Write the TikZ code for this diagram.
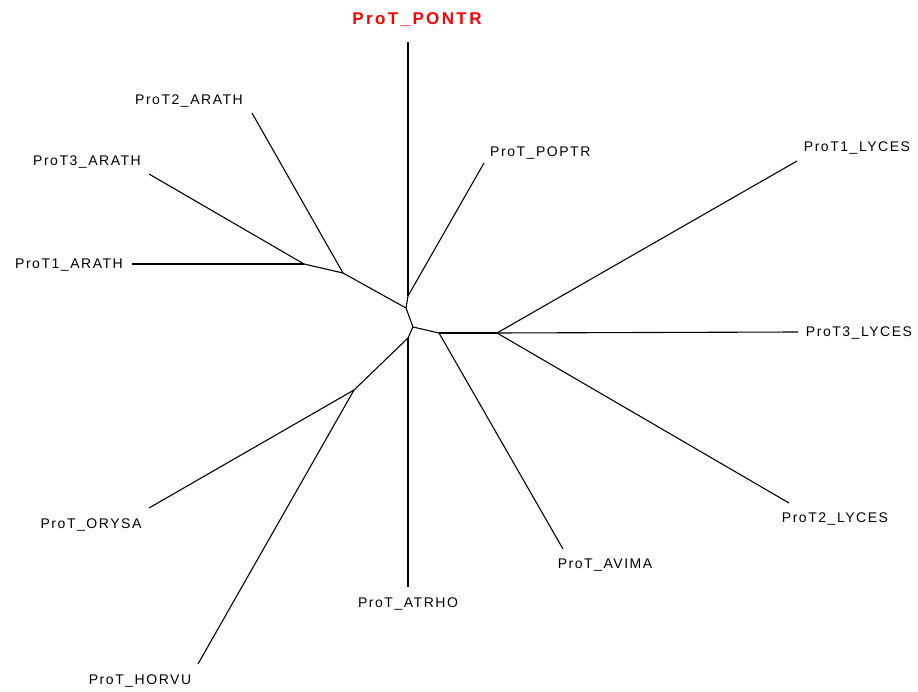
\documentclass[tikz,border=0pt]{standalone}
\usepackage{fontspec}
\setmainfont{Liberation Sans}[LetterSpace=11]
\newfontfamily\boldlab{Liberation Sans}[LetterSpace=14]
\begin{document}
\begin{tikzpicture}[x=1pt,y=-1pt,
  branch/.style={line width=1.1pt, black},
  leaf/.style={font=\fontsize{14}{16}\selectfont, inner sep=0pt, text=black},
  rootlab/.style={font=\boldlab\fontsize{17}{19}\selectfont\bfseries, inner sep=0pt, text=red}]
\useasboundingbox (0,0) rectangle (918,692);
% internal nodes
\coordinate (n1) at (408,296);
\coordinate (n2) at (406,308);
\coordinate (c) at (413,327);
\coordinate (n4) at (408,338);
\coordinate (n5) at (354,390);
\coordinate (n6) at (439,333);
\coordinate (n7) at (497,333);
\coordinate (n8) at (343,273);
\coordinate (n9) at (304,264);
% leaf ends
\coordinate (ePONTR) at (408,42);
\coordinate (ePOPTR) at (484,163);
\coordinate (eL1) at (797,161);
\coordinate (eL3) at (798,332);
\coordinate (eL2) at (789,503);
\coordinate (eAVIMA) at (563,549);
\coordinate (eATRHO) at (408,587);
\coordinate (eHORVU) at (198,664);
\coordinate (eORYSA) at (149,508);
\coordinate (eA1) at (132,264);
\coordinate (eA3) at (149,174);
\coordinate (eA2) at (252,113);
% labels
\node[rootlab] (PONTR) at (417,20) {ProT\_PONTR};
\node[leaf, anchor=west] (POPTR) at (490,153) {ProT\_POPTR};
\node[leaf] (L1) at (857,148) {ProT1\_LYCES};
\node[leaf] (L3) at (859,333) {ProT3\_LYCES};
\node[leaf] (L2) at (835,519) {ProT2\_LYCES};
\node[leaf] (AVIMA) at (605,565) {ProT\_AVIMA};
\node[leaf] (ATRHO) at (408,604) {ProT\_ATRHO};
\node[leaf] (HORVU) at (140,681) {ProT\_HORVU};
\node[leaf] (ORYSA) at (91,525) {ProT\_ORYSA};
\node[leaf] (A1) at (69,265) {ProT1\_ARATH};
\node[leaf] (A3) at (87,162) {ProT3\_ARATH};
\node[leaf] (A2) at (189,101) {ProT2\_ARATH};
% branches
\draw[branch] (ePONTR) -- (n1);
\draw[branch] (ePOPTR) -- (n1);
\draw[branch] (n1) -- (n2);
\draw[branch] (n2) -- (c);
\draw[branch] (n2) -- (n8);
\draw[branch] (n8) -- (eA2);
\draw[branch] (n8) -- (n9);
\draw[branch] (n9) -- (eA1);
\draw[branch] (n9) -- (eA3);
\draw[branch] (c) -- (n6);
\draw[branch] (n6) -- (n7);
\draw[branch] (n6) -- (eAVIMA);
\draw[branch] (n7) -- (eL1);
\draw[branch] (n7) -- (eL3);
\draw[branch] (n7) -- (eL2);
\draw[branch] (c) -- (n4);
\draw[branch] (n4) -- (eATRHO);
\draw[branch] (n4) -- (n5);
\draw[branch] (n5) -- (eORYSA);
\draw[branch] (n5) -- (eHORVU);
\end{tikzpicture}
\end{document}
